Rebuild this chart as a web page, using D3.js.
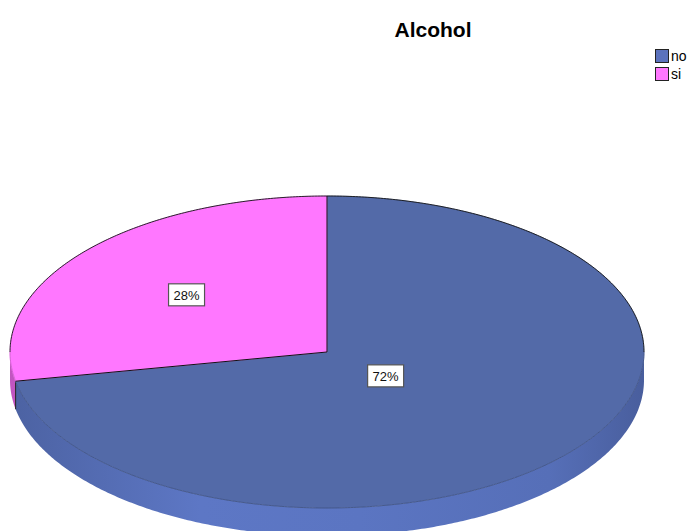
<!DOCTYPE html>
<html><head><meta charset="utf-8">
<script src="https://cdn.jsdelivr.net/npm/d3@7"></script>
<style>html,body{margin:0;padding:0;background:#fff;}svg{display:block;}</style>
</head><body>
<script>
const categories = ["no", "si"];
const values = [72, 28];
const labels = ["72%", "28%"];
const topColors = ["#536aa8", "#ff77ff"];
const sideColors = ["#5b75c2", "#e765e5"];
const legendColors = ["#5b72bd", "#ff77ff"];

const W = 690, H = 531;
const cx = 327, cy = 352, rx = 317, ry = 156, depth = 28;
const labelRadius = [0.24, 0.575];

const svg = d3.select("body").append("svg").attr("width", W).attr("height", H);
const defs = svg.append("defs");

const pie = d3.pie().sort(null).value(d => d)(values);

const pt = (t, k = 1, dy = 0) => [cx + rx * k * Math.sin(t), cy - ry * k * Math.cos(t) + dy];

function arcPts(a0, a1, dy) {
  const n = Math.max(2, Math.ceil(Math.abs(a1 - a0) / 0.01));
  const pts = [];
  for (let i = 0; i <= n; i++) pts.push(pt(a0 + (a1 - a0) * i / n, 1, dy));
  return pts;
}

categories.forEach((c, i) => {
  const g = defs.append("linearGradient").attr("id", "side" + i)
    .attr("gradientUnits", "userSpaceOnUse").attr("x1", cx - rx).attr("x2", cx + rx).attr("y1", 0).attr("y2", 0);
  const base = d3.color(sideColors[i]);
  g.append("stop").attr("offset", "0%").attr("stop-color", base.darker(0.5));
  g.append("stop").attr("offset", "30%").attr("stop-color", base.brighter(0.05));
  g.append("stop").attr("offset", "55%").attr("stop-color", base);
  g.append("stop").attr("offset", "85%").attr("stop-color", base.darker(0.15));
  g.append("stop").attr("offset", "100%").attr("stop-color", base.darker(0.6));
});

const line = d3.line();
pie.forEach((p, i) => {
  const a0 = Math.max(p.startAngle, Math.PI / 2);
  const a1 = Math.min(p.endAngle, 3 * Math.PI / 2);
  if (a1 <= a0) return;
  const top = arcPts(a0, a1, 0);
  const bot = arcPts(a1, a0, depth);
  svg.append("path").attr("d", line(top.concat(bot)) + "Z")
    .attr("fill", `url(#side${i})`).attr("stroke", "none");
});
pie.forEach((p) => {
  const a = p.endAngle;
  if (a > Math.PI / 2 && a < 3 * Math.PI / 2) {
    const [x, y] = pt(a);
    svg.append("line").attr("x1", x).attr("y1", y).attr("x2", x).attr("y2", y + depth)
      .attr("stroke", "#222").attr("stroke-width", 1);
  }
});

// top faces (fill)
pie.forEach((p, i) => {
  const pts = [[cx, cy]].concat(arcPts(p.startAngle, p.endAngle, 0));
  svg.append("path").attr("d", line(pts) + "Z")
    .attr("fill", topColors[i]).attr("stroke", topColors[i]).attr("stroke-width", 0.5);
});
// outline: back arc black, front arc subtle
pie.forEach((p, i) => {
  const segs = [[p.startAngle, p.endAngle]];
  segs.forEach(([s, e]) => {
    const n = Math.ceil((e - s) / 0.01);
    for (let k = 0; k < n; k++) {}
  });
  // back portion: angle in [3PI/2, 2PI] or [0, PI/2]
  const ranges = [[0, Math.PI / 2, "#111"], [Math.PI / 2, 3 * Math.PI / 2, d3.color(topColors[i]).darker(0.6)], [3 * Math.PI / 2, 2 * Math.PI, "#111"]];
  ranges.forEach(([r0, r1, col]) => {
    const a0 = Math.max(p.startAngle, r0), a1 = Math.min(p.endAngle, r1);
    if (a1 <= a0) return;
    svg.append("path").attr("d", line(arcPts(a0, a1, 0)))
      .attr("fill", "none").attr("stroke", col).attr("stroke-width", 0.9);
  });
});
// radial lines
pie.forEach((p) => {
  const [x, y] = pt(p.startAngle);
  svg.append("line").attr("x1", cx).attr("y1", cy).attr("x2", x).attr("y2", y)
    .attr("stroke", "#111").attr("stroke-width", 1);
});

// labels
pie.forEach((p, i) => {
  const m = (p.startAngle + p.endAngle) / 2;
  const [x, y] = pt(m, labelRadius[i]);
  const g = svg.append("g").attr("transform", `translate(${x},${y})`);
  g.append("rect").attr("x", -18).attr("y", -11).attr("width", 36).attr("height", 22)
    .attr("fill", "#fff").attr("stroke", "#555").attr("stroke-width", 1.2);
  g.append("text").attr("text-anchor", "middle").attr("y", 5)
    .attr("font-family", "Liberation Sans, Arial, sans-serif").attr("font-size", 13)
    .attr("fill", "#111").text(labels[i]);
});

// title
svg.append("text").attr("x", 433).attr("y", 37).attr("text-anchor", "middle")
  .attr("font-family", "Liberation Sans, Arial, sans-serif").attr("font-size", 21)
  .attr("font-weight", "bold").attr("fill", "#000").text("Alcohol");

// legend
const lg = svg.append("g").attr("transform", "translate(655,49)");
categories.forEach((c, i) => {
  lg.append("rect").attr("x", 0.5).attr("y", i * 18 + 0.5).attr("width", 13).attr("height", 13)
    .attr("fill", legendColors[i]).attr("stroke", "#222").attr("stroke-width", 1);
  lg.append("text").attr("x", 16).attr("y", i * 18 + 12)
    .attr("font-family", "Liberation Sans, Arial, sans-serif").attr("font-size", 14)
    .attr("fill", "#000").text(c);
});
</script>
</body></html>
